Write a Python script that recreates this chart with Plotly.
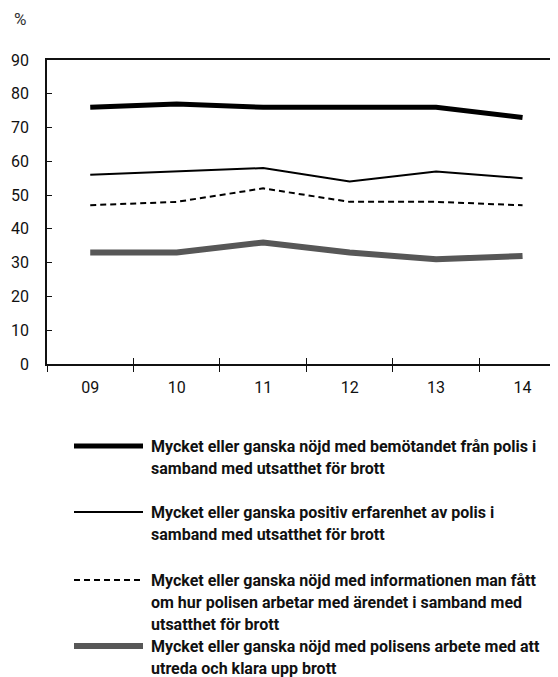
import plotly.graph_objects as go

years = ["09", "10", "11", "12", "13", "14"]

bemotande = [76, 77, 76, 76, 76, 73]
positiv_erfarenhet = [56, 57, 58, 54, 57, 55]
information = [47, 48, 52, 48, 48, 47]
utreda = [33, 33, 36, 33, 31, 32]

series_names = [
    "Mycket eller ganska nöjd med bemötandet från polis i<br>samband med utsatthet för brott",
    "Mycket eller ganska positiv erfarenhet av polis i<br>samband med utsatthet för brott",
    "Mycket eller ganska nöjd med informationen man fått<br>om hur polisen arbetar med ärendet i samband med<br>utsatthet för brott",
    "Mycket eller ganska nöjd med polisens arbete med att<br>utreda och klara upp brott",
]

FONT = "Roboto, Liberation Sans, sans-serif"
OFF = 8  # page body margin
W, H = 558 - OFF, 677 - OFF
L, R, T, B = 47 - OFF, 0, 60 - OFF, 313

styles = [
    dict(color="#000000", width=5),
    dict(color="#000000", width=2),
    dict(color="#000000", width=2, dash="6px,4px"),
    dict(color="#575757", width=6),
]

xs = list(range(len(years)))
bounds = [i - 0.5 for i in xs] + [len(xs) - 0.5]
xrange_ = [-0.5, 5.41]

fig = go.Figure()
for vals, name, st in zip([bemotande, positiv_erfarenhet, information, utreda], series_names, styles):
    fig.add_trace(go.Scatter(
        x=xs, y=vals, mode="lines", name=name, line=st, showlegend=False,
    ))
# empty trace so the overlay axis (upward half of the category ticks) gets drawn
fig.add_trace(go.Scatter(x=[], y=[], xaxis="x2", showlegend=False, hoverinfo="skip"))


# page pixel -> paper coords
def px_x(p):
    return (p - OFF - L) / (W - L - R)


def px_y(p):
    return (H - B - (p - OFF)) / (H - B - T)


# legend drawn by hand: long swatch + wrapped bold text, 22px per line
legend_rows = [446, 512, 580, 646]
shapes = []
annotations = []
for name, st, row in zip(series_names, styles, legend_rows):
    shapes.append(dict(
        type="line", xref="paper", yref="paper",
        x0=px_x(74), x1=px_x(143), y0=px_y(row), y1=px_y(row),
        line=st,
    ))
    for k, part in enumerate(name.split("<br>")):
        annotations.append(dict(
            xref="paper", yref="paper", x=px_x(149), y=px_y(row + 22 * k),
            xanchor="left", yanchor="middle", align="left", showarrow=False,
            text="<b>" + part + "</b>",
            font=dict(family=FONT, size=16, color="#111"),
        ))

annotations.append(dict(
    xref="paper", yref="paper", x=px_x(12), y=px_y(19),
    xanchor="left", yanchor="middle", showarrow=False,
    text="%", font=dict(family=FONT, size=17, color="#333"),
))

fig.update_layout(
    width=W, height=H,
    margin=dict(l=L, r=R, t=T, b=B),
    plot_bgcolor="white", paper_bgcolor="white",
    font=dict(family=FONT, size=16, color="#111"),
    xaxis=dict(
        range=xrange_, tickvals=xs, ticktext=years, ticks="",
        showgrid=False, zeroline=False,
        showline=True, linecolor="#111", linewidth=1.5, mirror=True,
        minor=dict(tickvals=bounds, ticks="outside", ticklen=6, tickcolor="#111", showgrid=False),
        ticklabelstandoff=8,
    ),
    xaxis2=dict(
        range=xrange_, overlaying="x", anchor="y", side="bottom",
        tickvals=bounds[1:], ticks="inside", ticklen=6, tickcolor="#111",
        showticklabels=False, showgrid=False, zeroline=False, showline=False,
    ),
    yaxis=dict(
        range=[0, 90], dtick=10, ticks="inside", ticklen=5, tickcolor="#111",
        showgrid=False, zeroline=False,
        showline=True, linecolor="#111", linewidth=1.5,
        ticklabelstandoff=13,
    ),
    shapes=shapes,
    annotations=annotations,
)

fig.write_html("out.html")
